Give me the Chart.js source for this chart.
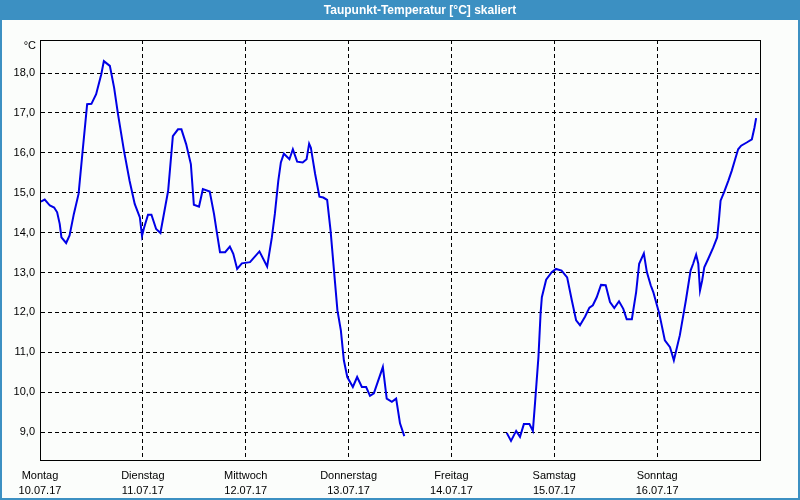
<!DOCTYPE html>
<html>
<head>
<meta charset="utf-8">
<script src="https://cdn.jsdelivr.net/npm/chart.js@4/dist/chart.umd.min.js"></script>
<style>
  html, body { margin: 0; padding: 0; background: #ffffff; }
  #wrap { width: 800px; height: 500px; position: relative; }
</style>
</head>
<body>
<div id="wrap"><canvas id="c" width="800" height="500"></canvas></div>
<script>
// ---- data ----
const chartTitle = 'Taupunkt-Temperatur [°C] skaliert';
const unitLabel = '°C';
const dayNames = ['Montag', 'Dienstag', 'Mittwoch', 'Donnerstag', 'Freitag', 'Samstag', 'Sonntag'];
const dayDates = ['10.07.17', '11.07.17', '12.07.17', '13.07.17', '14.07.17', '15.07.17', '16.07.17'];
const yTickValues = [9, 10, 11, 12, 13, 14, 15, 16, 17, 18];

// hours since Monday 00:00
const hours = [
  0.2, 1.1, 2.3, 3.3, 4.0, 4.6, 5.0, 6.1, 6.9, 7.9, 9.0, 9.8, 11.0, 12.0, 13.1, 14.3, 14.9, 16.3, 17.3, 18.2,
  19.6, 20.9, 22.1, 23.3, 23.8, 24.3, 25.2, 26.0, 27.1, 28.1, 29.9, 31.0, 32.2, 33.0, 34.1, 35.2, 35.9, 37.1,
  38.0, 39.6, 40.6, 41.2, 42.0, 43.2, 44.3, 45.1, 46.0, 47.1, 49.0, 51.2, 53.0, 54.1, 54.8, 55.6, 56.2, 56.9,
  58.2, 59.0, 60.0, 61.3, 62.2, 62.8, 63.2, 64.2, 65.2, 66.1, 67.0, 67.8, 68.6, 69.4, 70.2, 70.9, 71.7, 73.0,
  74.0, 75.1, 76.1, 77.0, 77.9, 80.0, 80.9, 82.1, 83.1, 84.0, 85.0,
  97.0,
  108.9, 109.9, 111.1, 112.0, 112.9, 114.2, 115.0, 115.5, 116.3, 116.8, 117.1, 118.1, 119.4, 120.4, 121.7,
  123.0, 124.1, 125.1, 126.0, 127.2, 128.2, 129.0, 129.9, 130.9, 132.0, 133.0, 134.0, 135.1, 136.1, 136.9,
  138.1, 139.1, 139.8, 140.9, 141.6, 142.5, 143.1, 144.5, 145.8, 147.0, 147.9, 149.3, 150.7, 151.8, 152.4,
  153.1, 153.6, 154.0, 154.5, 155.0, 155.9, 157.1, 158.0, 158.4, 158.8, 159.6, 160.6, 161.4, 162.2, 162.9,
  163.6, 164.9, 166.1, 166.7, 167.1
];
const dewpoint = [
  14.78, 14.83, 14.68, 14.63, 14.51, 14.22, 13.88, 13.74, 13.93, 14.47, 14.97, 15.88, 17.22, 17.23, 17.47, 17.97, 18.30, 18.18, 17.63, 16.97,
  16.05, 15.30, 14.72, 14.38, 13.92, 14.13, 14.45, 14.45, 14.09, 13.99, 15.05, 16.42, 16.59, 16.59, 16.22, 15.72, 14.70, 14.65,
  15.09, 15.03, 14.47, 14.05, 13.51, 13.51, 13.65, 13.47, 13.09, 13.23, 13.26, 13.53, 13.15, 13.88, 14.47, 15.30, 15.76, 15.98,
  15.84, 16.09, 15.78, 15.76, 15.84, 16.23, 16.13, 15.47, 14.90, 14.88, 14.82, 14.05, 13.05, 12.05, 11.55, 10.80, 10.38, 10.13,
  10.38, 10.13, 10.13, 9.91, 9.97, 10.63, 9.84, 9.76, 9.84, 9.22, 8.90,
  null,
  8.98, 8.78, 9.03, 8.88, 9.20, 9.20, 9.03, 9.72, 10.88, 11.97, 12.38, 12.82, 13.01, 13.09, 13.05,
  12.88, 12.30, 11.80, 11.68, 11.90, 12.12, 12.18, 12.38, 12.69, 12.68, 12.26, 12.11, 12.28, 12.09, 11.83,
  11.83, 12.51, 13.22, 13.48, 13.01, 12.68, 12.51, 11.97, 11.30, 11.13, 10.80, 11.43, 12.30, 13.05, 13.22,
  13.45, 13.22, 12.55, 12.80, 13.13, 13.34, 13.63, 13.88, 14.30, 14.80, 15.01, 15.30, 15.55, 15.84, 16.09,
  16.18, 16.26, 16.34, 16.63, 16.87
];

const points = hours.map((h, i) => ({ x: h, y: dewpoint[i] }));

const FONT = "'Liberation Sans', Arial, sans-serif";

const framePlugin = {
  id: 'frame',
  beforeDraw(chart) {
    const ctx = chart.ctx;
    const W = chart.width, H = chart.height;
    ctx.save();
    ctx.fillStyle = '#fbfdfb';
    ctx.fillRect(0, 0, W, H);
    ctx.fillStyle = '#3c90c2';
    ctx.fillRect(0, 0, W, 20);
    ctx.strokeStyle = '#3c90c2';
    ctx.lineWidth = 2;
    ctx.strokeRect(1, 1, W - 2, H - 2);
    ctx.fillStyle = '#ffffff';
    ctx.font = 'bold 12px ' + FONT;
    ctx.textAlign = 'center';
    ctx.textBaseline = 'middle';
    ctx.fillText(chartTitle, 420, 10.5);
    ctx.restore();
  },
  afterDraw(chart) {
    const ctx = chart.ctx;
    const a = chart.chartArea;
    ctx.save();
    ctx.strokeStyle = '#000000';
    ctx.lineWidth = 1;
    ctx.setLineDash([]);
    ctx.strokeRect(Math.round(a.left) + 0.5, Math.round(a.top) + 0.5, Math.round(a.right - a.left), Math.round(a.bottom - a.top));
    ctx.fillStyle = '#000000';
    ctx.font = '11px ' + FONT;
    ctx.textAlign = 'right';
    ctx.textBaseline = 'middle';
    ctx.fillText(unitLabel, 36, 46);
    ctx.restore();
  }
};

new Chart(document.getElementById('c'), {
  type: 'line',
  data: {
    datasets: [{
      data: points,
      borderColor: '#0000e6',
      borderWidth: 2,
      pointRadius: 0,
      tension: 0,
      spanGaps: false,
      fill: false
    }]
  },
  options: {
    responsive: false,
    animation: false,
    devicePixelRatio: 1,
    layout: { padding: { top: 40, right: 40, left: 0, bottom: 0 } },
    plugins: {
      legend: { display: false },
      title: { display: false },
      tooltip: { enabled: false }
    },
    scales: {
      x: {
        type: 'linear',
        min: 0,
        max: 168,
        afterFit: s => { s.height = 40; },
        ticks: {
          stepSize: 24,
          autoSkip: false,
          maxRotation: 0,
          padding: 8,
          color: '#000000',
          font: { family: FONT, size: 11, lineHeight: 1.4 },
          callback: v => {
            const i = Math.round(v / 24);
            return i < dayNames.length ? [dayNames[i], dayDates[i]] : '';
          }
        },
        grid: { color: '#000000', lineWidth: 1, drawTicks: false },
        border: { display: true, color: '#000000', dash: [4, 3] }
      },
      y: {
        type: 'linear',
        min: 8.3,
        max: 18.83,
        afterFit: s => { s.width = 40; },
        afterBuildTicks: axis => { axis.ticks = yTickValues.map(v => ({ value: v })); },
        ticks: {
          padding: 5,
          color: '#000000',
          font: { family: FONT, size: 11 },
          callback: v => v.toFixed(1).replace('.', ',')
        },
        grid: { color: '#000000', lineWidth: 1, drawTicks: false },
        border: { display: true, color: '#000000', dash: [4, 3] }
      }
    }
  },
  plugins: [framePlugin]
});
</script>
</body>
</html>
